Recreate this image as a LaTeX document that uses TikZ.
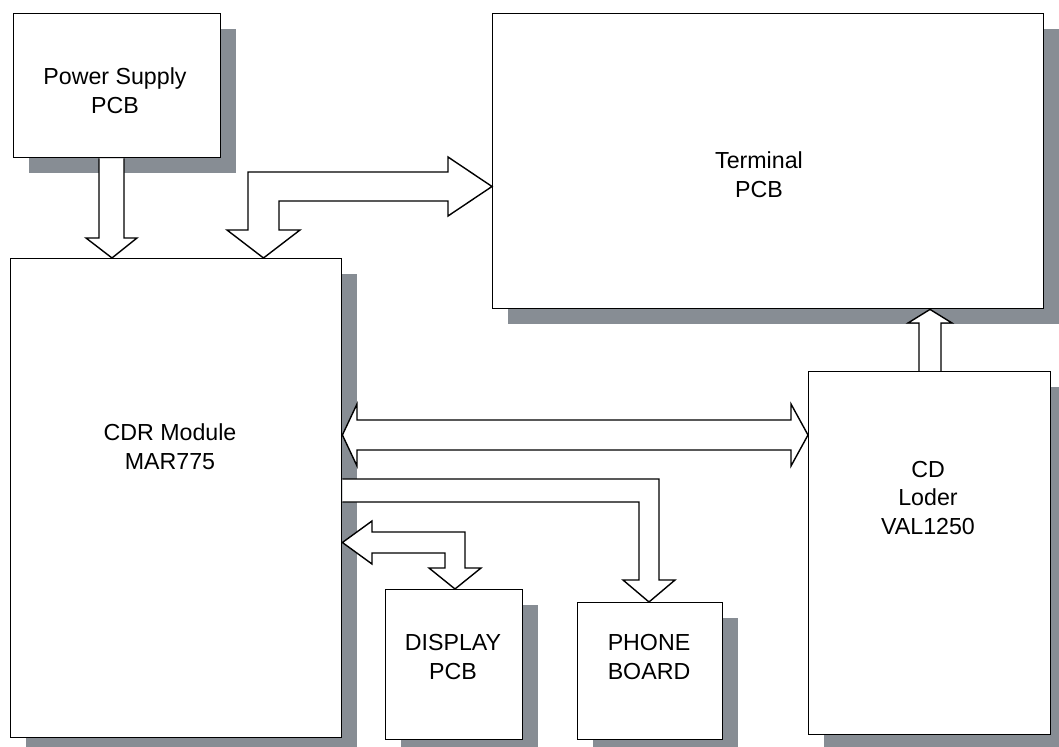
\documentclass[tikz,border=0pt]{standalone}
\usepackage{fontspec}
\setmainfont{Liberation Sans}
\usepackage{tikz}
\usetikzlibrary{shadows,positioning}
\definecolor{shadowgray}{RGB}{135,141,148}
\newcommand{\pxu}{0.025cm}
\tikzstyle{block} = [draw, rectangle, fill=white, line width=1pt, anchor=north west, drop shadow={shadow xshift=15*\pxu, shadow yshift=-15*\pxu, fill=shadowgray, opacity=1}]
\tikzstyle{txt} = [align=center, font=\fontsize{16.5}{20.6}\selectfont]
\tikzstyle{bigarrow} = [draw, fill=white, line width=1pt, line join=miter]

\begin{document}
\begin{tikzpicture}[x=\pxu, y=-\pxu]

\useasboundingbox (0,0) rectangle (1059,747);

\node [block, minimum width=207*\pxu, minimum height=144*\pxu] (power) at (13,13) {};
\node [block, minimum width=551*\pxu, minimum height=295*\pxu] (terminal) at (492,13) {};
\node [block, minimum width=331*\pxu, minimum height=479*\pxu] (cdr) at (10,258) {};
\node [block, minimum width=242*\pxu, minimum height=363*\pxu] (loder) at (808,371) {};
\node [block, minimum width=137*\pxu, minimum height=150*\pxu] (display) at (385,589) {};
\node [block, minimum width=145*\pxu, minimum height=137*\pxu] (phone) at (577,602) {};

\node [txt] (powertxt) at (115,91) {Power Supply\\PCB};
\node [txt] (terminaltxt) at (759,175) {Terminal\\PCB};
\node [txt] (cdrtxt) at (170,447) {CDR Module\\MAR775};
\node [txt] (lodertxt) at (928,498) {CD\\Loder\\VAL1250};
\node [txt] (displaytxt) at (453,657) {DISPLAY\\PCB};
\node [txt] (phonetxt) at (649,657) {PHONE\\BOARD};

\draw [bigarrow] (99,0 |- power.south) -- (99,238) -- (86,238) -- (112,0 |- cdr.north)
  -- (137,238) -- (124,238) -- (124,0 |- power.south);
\draw [bigarrow] (248,230) -- (248,172) -- (448,172) -- (448,157) -- (terminal.west |- 0,186.5)
  -- (448,216) -- (448,201) -- (279,201) -- (279,230) -- (300,230) -- (263.5,0 |- cdr.north)
  -- (227,230) -- cycle;
\draw [bigarrow] (cdr.east |- 0,435) -- (357,404) -- (357,420) -- (791,420) -- (791,404)
  -- (loder.west |- 0,435) -- (791,466) -- (791,450) -- (357,450) -- (357,466) -- cycle;
\draw [bigarrow] (cdr.east |- 0,479) -- (659,479) -- (659,580) -- (675,580) -- (649,0 |- phone.north)
  -- (623,580) -- (639,580) -- (639,502) -- (cdr.east |- 0,502);
\draw [bigarrow] (cdr.east |- 0,542.5) -- (372,521) -- (372,532) -- (465,532) -- (465,568)
  -- (481,568) -- (455,0 |- display.north) -- (429,568) -- (445,568) -- (445,553) -- (372,553)
  -- (372,564) -- cycle;
\draw [bigarrow] (919,0 |- loder.north) -- (919,323) -- (908,323) -- (930,0 |- terminal.south)
  -- (952,323) -- (941,323) -- (941,0 |- loder.north);
\end{tikzpicture}
\end{document}
